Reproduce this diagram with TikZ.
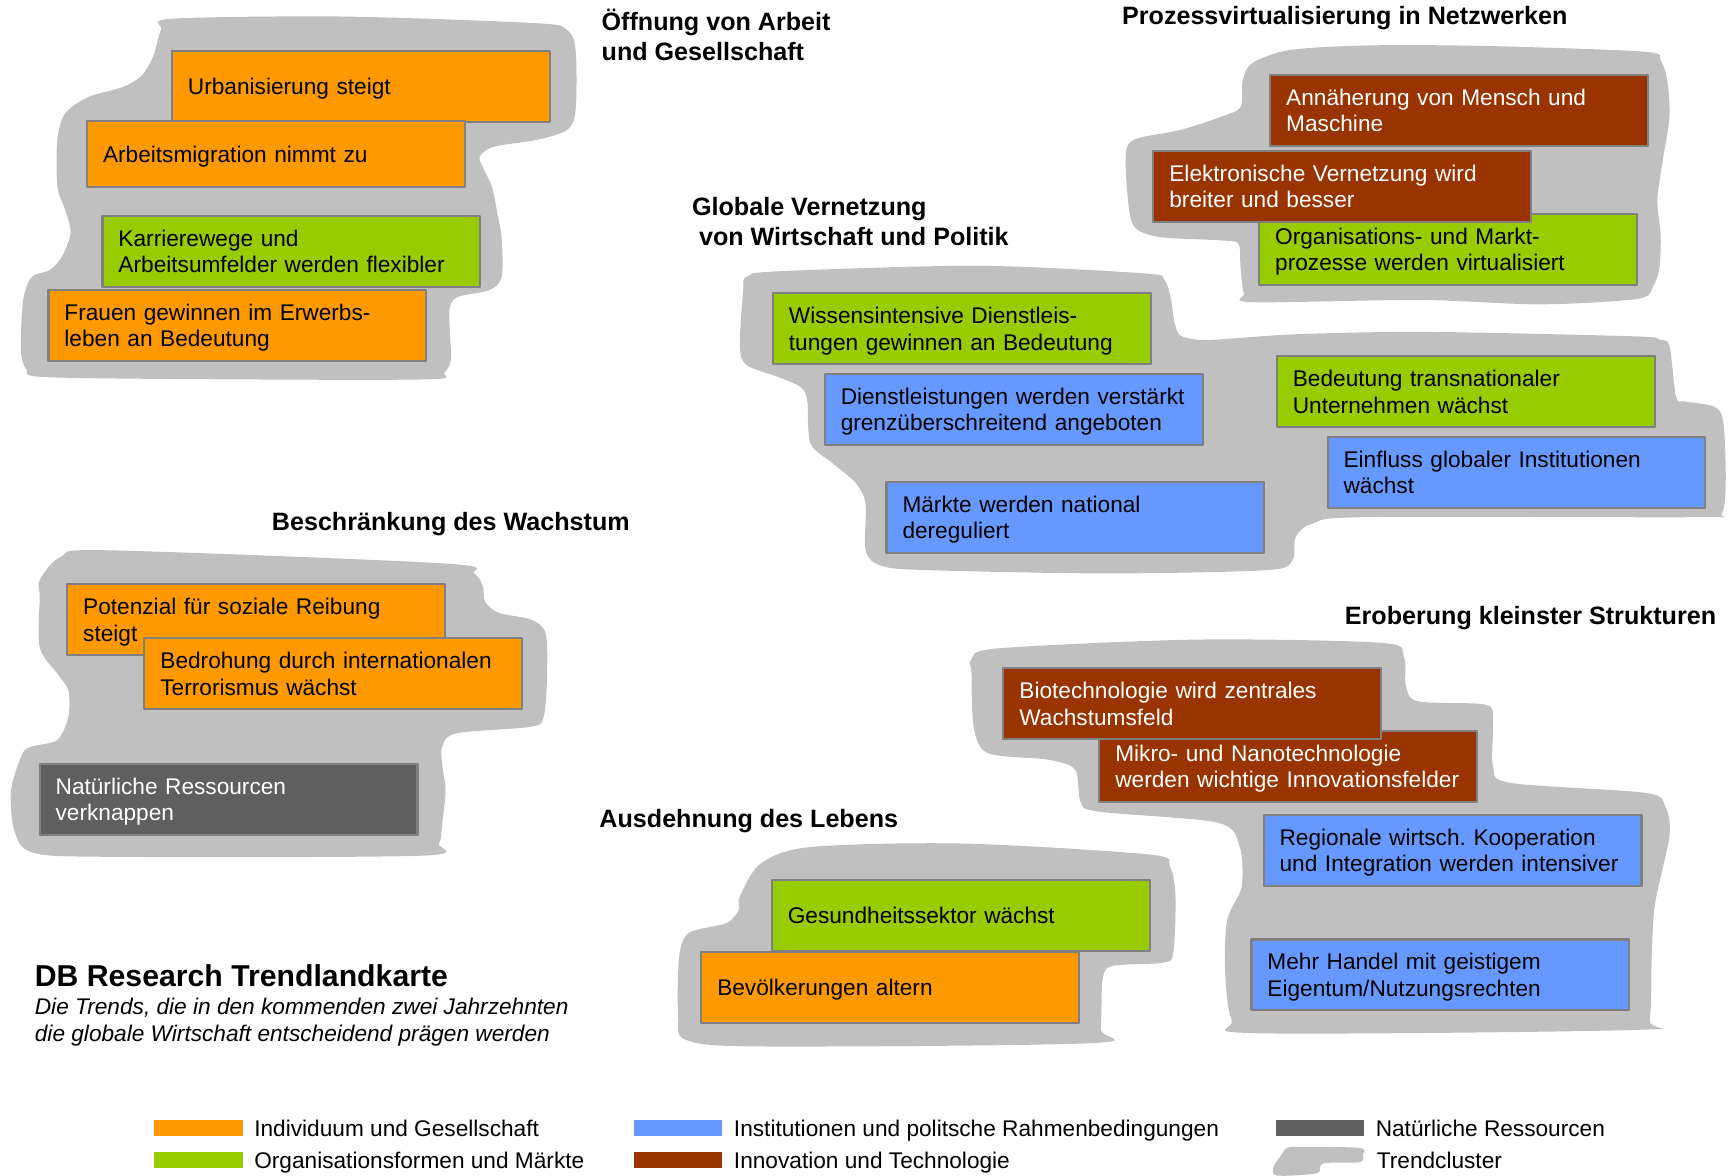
\documentclass[tikz,border=0pt]{standalone}
\usepackage{fontspec}
\setmainfont{Liberation Sans}
\definecolor{orangeT}{HTML}{FF9900}
\definecolor{greenT}{HTML}{99CC00}
\definecolor{blueT}{HTML}{6699FF}
\definecolor{brownT}{HTML}{993300}
\definecolor{rockT}{HTML}{5F5F5F}
\definecolor{blobT}{HTML}{C0C0C0}
\definecolor{boxline}{HTML}{808080}
\begin{document}
\frenchspacing
\begin{tikzpicture}[x=0.011027cm,y=-0.011027cm,line join=round,
	trend/.style={draw=boxline,line width=0.6pt,anchor=north west,minimum width=3.78cm,minimum height=0.71cm,text width=3.46cm,text depth=7.5pt,inner xsep=0.16cm,inner ysep=0pt,align=left,font=\fontsize{6.45}{7.5}\selectfont},
	oneline/.style={text depth=0pt},
	boxInd/.style={trend,fill=orangeT},boxOrg/.style={trend,fill=greenT},boxInst/.style={trend,fill=blueT},
	boxTech/.style={trend,fill=brownT,text=white},boxRes/.style={trend,fill=rockT,text=white},
	blob/.style={fill=blobT},
	headline/.style={anchor=west,inner sep=0pt,align=left,font=\fontsize{7.15}{8.5}\selectfont\bfseries},
	legtext/.style={anchor=base west,inner sep=0pt,font=\fontsize{6.45}{7.5}\selectfont}]
		\useasboundingbox (0,0) rectangle (1568,1066);
		% Trendcluster
		\fill[blob] plot[smooth cycle] coordinates {(156,17) (312,15) (486,21) (514,27) (522,45) (522,100) (514,118) (486,127) (448,133) (435,142) (439,154) (446,169) (451,193) (455,217) (455,251) (444,263) (416,269) (408,278) (408,302) (409,326) (403,338) (389,344) (208,344) (42,342) (24,335) (19,317) (21,272) (29,251) (45,245) (56,233) (64,211) (59,190) (52,169) (52,127) (59,103) (80,88) (111,79) (128,69) (139,51) (146,27)};
		\fill[blob] plot[smooth cycle] coordinates {(1136,57) (1172,45) (1252,41) (1361,42) (1492,47) (1506,55) (1512,73) (1514,106) (1508,145) (1503,182) (1506,212) (1505,242) (1499,260) (1485,271) (1397,276) (1288,272) (1136,274) (1128,266) (1125,242) (1123,221) (1107,218) (1052,215) (1029,206) (1023,182) (1021,139) (1030,126) (1070,118) (1107,106) (1125,97) (1127,73)};
		\fill[blob] plot[smooth cycle] coordinates {(677,251) (706,246) (887,241) (1038,248) (1056,254) (1062,272) (1065,292) (1070,304) (1085,308) (1103,308) (1178,303) (1295,301) (1482,305) (1505,308) (1514,314) (1520,360) (1528,364) (1555,369) (1563,384) (1565,438) (1561,466) (1540,469) (1237,469) (1190,475) (1175,487) (1172,508) (1149,517) (1003,520) (840,517) (799,513) (785,499) (785,457) (776,438) (755,420) (735,402) (732,363) (726,351) (706,342) (677,331) (671,314) (674,263)};
		\fill[blob] plot[smooth cycle] coordinates {(36,526) (55,505) (97,499) (404,511) (430,520) (438,532) (440,546) (453,556) (482,562) (495,575) (496,617) (493,650) (482,659) (414,665) (401,677) (401,693) (404,717) (401,747) (398,765) (382,776) (97,777) (29,773) (13,753) (10,717) (20,684) (29,677) (52,671) (62,650) (62,626) (52,611) (36,587) (36,541)};
		\fill[blob] plot[smooth cycle] coordinates {(671,813) (690,783) (736,768) (874,765) (1043,775) (1061,786) (1066,813) (1064,864) (1055,873) (1009,876) (1000,888) (998,933) (990,946) (690,949) (622,943) (615,921) (616,867) (625,846) (659,837) (670,825)};
		\fill[blob] plot[smooth cycle] coordinates {(881,598) (905,588) (1086,580) (1253,583) (1273,595) (1275,622) (1286,636) (1347,639) (1354,653) (1354,695) (1370,710) (1492,719) (1510,731) (1514,758) (1501,819) (1498,864) (1496,925) (1483,934) (1140,937) (1117,925) (1111,879) (1113,834) (1126,804) (1124,767) (1104,746) (996,736) (980,727) (975,698) (951,689) (896,683) (883,659) (881,610)};
		% Trends
		\node[boxInd,oneline] (urban) at (155,45) {Urbanisierung steigt};
		\node[boxInd,oneline,minimum height=0.66cm] (migration) at (78,109) {Arbeitsmigration nimmt zu};
		\node[boxOrg] (karriere) at (92,195) {Karrierewege und\\Arbeitsumfelder werden flexibler};
		\node[boxInd] (frauen) at (43,262) {Frauen gewinnen im Erwerbs-\\leben an Bedeutung};
		\node[boxTech] (annaeherung) at (1151,67) {Annäherung von Mensch und\\Maschine};
		\node[boxOrg] (organisation) at (1141,193) {Organisations- und Markt-\\prozesse werden virtualisiert};
		\node[boxTech] (elektronik) at (1045,136) {Elektronische Vernetzung wird\\breiter und besser};
		\node[boxOrg] (wissen) at (700,265) {Wissensintensive Dienstleis-\\tungen gewinnen an Bedeutung};
		\node[boxInst] (dienst) at (747,338) {Dienstleistungen werden verstärkt\\grenzüberschreitend angeboten};
		\node[boxInst] (maerkte) at (803,436) {Märkte werden national\\dereguliert};
		\node[boxOrg] (transnational) at (1157,322) {Bedeutung transnationaler\\Unternehmen wächst};
		\node[boxInst] (einfluss) at (1203,395) {Einfluss globaler Institutionen\\wächst};
		\node[boxInd] (reibung) at (60,529) {Potenzial für soziale Reibung\\steigt};
		\node[boxInd] (terror) at (130,578) {Bedrohung durch internationalen\\Terrorismus wächst};
		\node[boxRes] (ressourcen) at (35,692) {Natürliche Ressourcen\\verknappen};
		\node[boxOrg,oneline] (gesundheit) at (699,797) {Gesundheitssektor wächst};
		\node[boxInd,oneline] (alter) at (635,862) {Bevölkerungen altern};
		\node[boxTech] (nano) at (996,662) {Mikro- und Nanotechnologie\\werden wichtige Innovationsfelder};
		\node[boxTech] (biotech) at (909,605) {Biotechnologie wird zentrales\\Wachstumsfeld};
		\node[boxInst] (regional) at (1145,738) {Regionale wirtsch. Kooperation\\und Integration werden intensiver};
		\node[boxInst] (handel) at (1134,851) {Mehr Handel mit geistigem\\Eigentum/Nutzungsrechten};
		% Ueberschriften
		\node[headline] (hArbeit) at (545,32) {Öffnung von Arbeit\\und Gesellschaft};
		\node[headline] (hNetz) at (1017,16.5) {Prozessvirtualisierung in Netzwerken};
		\node[headline] (hGlobal) at (627,201) {Globale Vernetzung\\\hspace*{0.07cm}von Wirtschaft und Politik};
		\node[headline] (hWachstum) at (246,475.5) {Beschränkung des Wachstum};
		\node[headline] (hKlein) at (1219,560.5) {Eroberung kleinster Strukturen};
		\node[headline] (hLeben) at (543,745) {Ausdehnung des Lebens};
		\node[anchor=west,inner sep=0pt,font=\fontsize{8.6}{10}\selectfont\bfseries] (titel) at (31,885) {DB Research Trendlandkarte};
		\node[anchor=west,inner sep=0pt,align=left,font=\fontsize{6.45}{7.5}\selectfont\itshape] (untertitel) at (31,927) {Die Trends, die in den kommenden zwei Jahrzehnten\\die globale Wirtschaft entscheidend prägen werden};
		% Legende
		\foreach \x/\y/\c/\t [count=\i] in {140/1016/orangeT/Individuum und Gesellschaft,140/1045/greenT/Organisationsformen und Märkte,575/1016/blueT/Institutionen und politsche Rahmenbedingungen,575/1045/brownT/Innovation und Technologie,1157/1016/rockT/Natürliche Ressourcen}{
			\fill[\c] (\x,\y) rectangle ++(80,14);
			\node[legtext] (leg\i) at (\x+90,\y+15) {\t};}
		\fill[blob] plot[smooth cycle] coordinates {(1161,1049) (1167,1041) (1179,1040) (1233,1041) (1236,1047) (1233,1054) (1200,1055) (1194,1064) (1158,1066) (1155,1058)};
		\node[legtext] (leg6) at (1248,1060) {Trendcluster};
\end{tikzpicture}
\end{document}
